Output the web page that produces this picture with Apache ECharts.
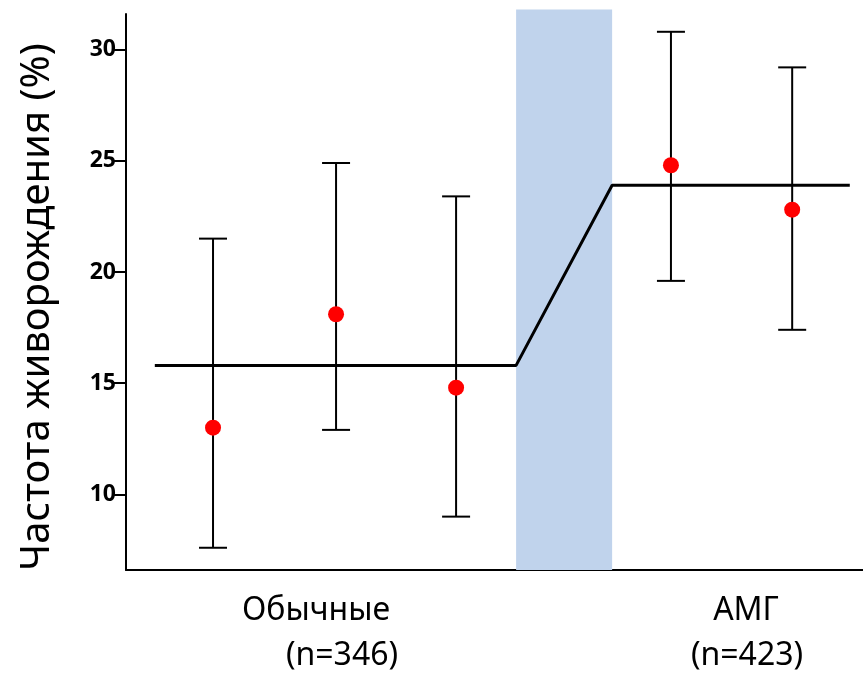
<!DOCTYPE html>
<html><head><meta charset="utf-8">
<script src="https://cdn.jsdelivr.net/npm/echarts@6/dist/echarts.min.js"></script>
<style>html,body{margin:0;padding:0;background:#fff}#c{width:863px;height:673px}</style>
</head><body><div id="c"></div>
<script>
// Positions along x (arbitrary units) of each measurement
const pointX = [7.25, 17.5, 27.5, 45.4, 55.5];
const pointMean = [13.0, 18.1, 14.8, 24.8, 22.8];
const errLow = [7.6, 12.9, 9.0, 19.6, 17.4];
const errHigh = [21.5, 24.9, 23.4, 30.8, 29.2];
// Trend line: baseline level, transition, new level
const trendX = [2.4, 32.5, 40.5, 60.3];
const trendY = [15.8, 15.8, 23.9, 23.9];
// Shaded transition band (x range, y range)
const bandX = [32.5, 40.5];
const bandY = [6.6, 31.8];
const yTicks = [10, 15, 20, 25, 30];
const groupLabels = ['Обычные', 'АМГ'];
const groupN = ['(n=346)', '(n=423)'];
const yTitle = 'Частота живорождения (%)';

const font = '"Noto Sans", "Open Sans", sans-serif';
const chart = echarts.init(document.getElementById('c'));
chart.setOption({
  animation: false,
  grid: {left: 126, right: 0, top: 14, bottom: 103},
  xAxis: {type: 'value', min: 0, max: 61.4,
    axisLine: {show: true, lineStyle: {color: '#000', width: 2}},
    axisTick: {show: false}, axisLabel: {show: false}, splitLine: {show: false}},
  yAxis: {type: 'value', min: 6.6, max: 31.6,
    axisLine: {show: true, lineStyle: {color: '#000', width: 2}},
    axisTick: {show: true, length: 12, lineStyle: {color: '#000', width: 2}, customValues: yTicks},
    axisLabel: {color: '#000', fontWeight: 'bold', fontSize: 23, fontFamily: font, margin: 10, customValues: yTicks},
    splitLine: {show: false}},
  graphic: [
    {type: 'text', x: 38, y: 307, rotation: Math.PI / 2,
      style: {text: yTitle, font: '40px ' + font, fill: '#000', align: 'center', verticalAlign: 'middle'}},
    {type: 'text', x: 316, y: 611, style: {text: groupLabels[0], font: '32px ' + font, fill: '#000', align: 'center', verticalAlign: 'middle'}},
    {type: 'text', x: 342, y: 656, style: {text: groupN[0], font: '32px ' + font, fill: '#000', align: 'center', verticalAlign: 'middle'}},
    {type: 'text', x: 746, y: 611, style: {text: groupLabels[1], font: '32px ' + font, fill: '#000', align: 'center', verticalAlign: 'middle'}},
    {type: 'text', x: 747, y: 656, style: {text: groupN[1], font: '32px ' + font, fill: '#000', align: 'center', verticalAlign: 'middle'}}
  ],
  series: [
    {type: 'custom', z: 1, clip: false, silent: true,
      data: [[bandX[0], bandX[1], bandY[0], bandY[1]]],
      renderItem: function (params, api) {
        const a = api.coord([api.value(0), api.value(3)]);
        const b = api.coord([api.value(1), api.value(2)]);
        return {type: 'rect', shape: {x: a[0], y: a[1], width: b[0] - a[0], height: b[1] - a[1]},
          style: {fill: '#c0d3ec'}};
      }},
    {type: 'line', data: trendX.map((x, i) => [x, trendY[i]]), symbol: 'none', z: 3,
      lineStyle: {color: '#000', width: 3}},
    {type: 'custom', z: 4,
      data: pointX.map((x, i) => [x, errLow[i], errHigh[i]]),
      renderItem: function (params, api) {
        const lo = api.coord([api.value(0), api.value(1)]);
        const hi = api.coord([api.value(0), api.value(2)]);
        const hw = 14;
        const st = {stroke: '#000', lineWidth: 2};
        return {type: 'group', children: [
          {type: 'line', shape: {x1: lo[0], y1: lo[1], x2: hi[0], y2: hi[1]}, style: st},
          {type: 'line', shape: {x1: lo[0] - hw, y1: lo[1], x2: lo[0] + hw, y2: lo[1]}, style: st},
          {type: 'line', shape: {x1: hi[0] - hw, y1: hi[1], x2: hi[0] + hw, y2: hi[1]}, style: st}
        ]};
      }},
    {type: 'scatter', z: 5, data: pointX.map((x, i) => [x, pointMean[i]]),
      symbolSize: 16, itemStyle: {color: '#ff0000', opacity: 1}}
  ]
});
</script></body></html>
